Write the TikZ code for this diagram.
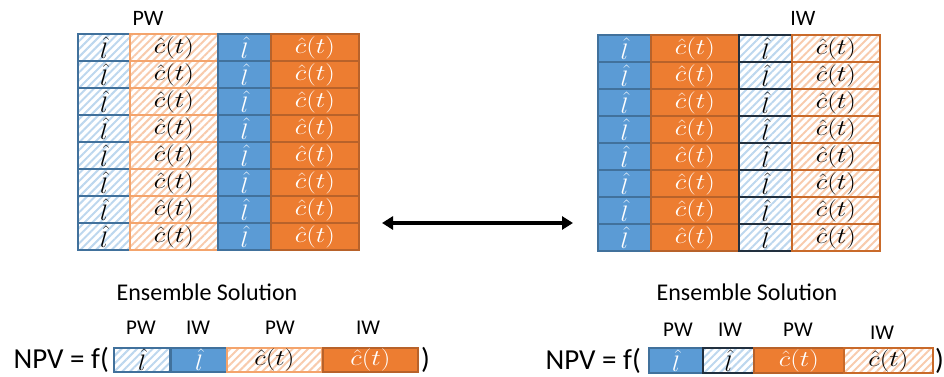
\documentclass[tikz,border=0pt]{standalone}
\usepackage{fix-cm}
\usepackage{graphicx}
\usepackage{fontspec}
\setmainfont{Carlito}
\usetikzlibrary{patterns.meta,arrows.meta}
\definecolor{cblue}{HTML}{5B9BD5}
\definecolor{cblueD}{HTML}{41719C}
\definecolor{corange}{HTML}{ED7D31}
\definecolor{corangeD}{HTML}{B8622A}
\definecolor{lblue}{HTML}{BDD7EE}
\definecolor{lorange}{HTML}{F8CBAD}
\definecolor{borangeL}{HTML}{F4A46C}
\definecolor{navy}{HTML}{22303F}
% the two cell symbols, widened a little
\newcommand{\symL}{\scalebox{1.25}[1.12]{$\hat{l}$}}
\newcommand{\symC}{\scalebox{1.35}[1.12]{$\hat{c}(t)$}}
\begin{document}
\begin{tikzpicture}[x=1pt,y=-1pt,
  cell/.style={rectangle,inner sep=0pt,outer sep=0pt,line width=1.4pt,anchor=north west,
    font=\fontsize{20}{24}\selectfont},
  hatch/.style={pattern={Lines[angle=45,distance=5.5pt,line width=2pt]}},
  hblue/.style={cell,hatch,pattern color=lblue,draw=cblueD},
  hblueN/.style={cell,hatch,pattern color=lblue,draw=navy},
  horange/.style={cell,hatch,pattern color=lorange,draw=borangeL},
  horangeD/.style={cell,hatch,pattern color=lorange,draw=corange!85!black},
  sblue/.style={cell,fill=cblue,draw=cblueD,text=white},
  sorange/.style={cell,fill=corange,draw=corangeD,text=white},
  lbl/.style={font=\fontsize{21}{25}\selectfont,inner sep=0pt},
  ens/.style={font=\fontsize{24}{28}\selectfont,inner sep=0pt},
  npv/.style={font=\fontsize{29}{34}\selectfont,inner sep=0pt},
  narrow/.style={minimum width=52pt,minimum height=27pt},
  wide/.style={minimum width=88pt,minimum height=27pt},
]
\useasboundingbox (0,0) rectangle (944,377);

% left block: PW hatched, IW solid
\node[lbl,font=\fontsize{22}{26}\selectfont] (pwtop) at (148,18) {PW};
\foreach \r in {0,...,7}{
  \pgfmathsetmacro{\yy}{34+27*\r}
  \node[hblue,narrow]   (L\r a) at (78,\yy)  {\symL};
  \node[horange,wide]   (L\r b) at (130,\yy) {\symC};
  \node[sblue,narrow,minimum width=53pt] (L\r c) at (218,\yy) {\symL};
  \node[sorange,wide]   (L\r d) at (271,\yy) {\symC};
}

% right block: PW solid, IW hatched
\node[lbl,font=\fontsize{22}{26}\selectfont] (iwtop) at (803,18) {IW};
\foreach \r in {0,...,7}{
  \pgfmathsetmacro{\yy}{35+27*\r}
  \node[sblue,narrow,minimum width=53pt] (R\r a) at (598,\yy) {\symL};
  \node[sorange,wide]   (R\r b) at (651,\yy) {\symC};
  \node[hblueN,narrow,minimum width=53pt] (R\r c) at (739,\yy) {\symL};
  \node[horangeD,wide]  (R\r d) at (792,\yy) {\symC};
}

% double arrow between the two blocks
\coordinate (al) at (382,223);
\coordinate (ar) at (573,223);
\draw[line width=3.5pt,{Triangle[width=13pt,length=11pt]}-{Triangle[width=13pt,length=11pt]}] (al) -- (ar);

% left ensemble solution
\node[ens] (esl) at (207,292) {Ensemble Solution};
\node[lbl] (lp1) at (141,328) {PW};
\node[lbl] (li1) at (198,328) {IW};
\node[lbl] (lp2) at (280,328) {PW};
\node[lbl] (li2) at (368,328) {IW};
\node[hblue,minimum width=56pt,minimum height=24pt] (eL1) at (114,348) {\symL};
\node[sblue,minimum width=56pt,minimum height=24pt] (eL2) at (171,348) {\symL};
\node[horange,minimum width=95pt,minimum height=24pt] (eL3) at (227,348) {\symC};
\node[sorange,minimum width=95pt,minimum height=24pt] (eL4) at (323,348) {\symC};
\node[npv,anchor=east] (npvL) at ([xshift=-5pt]eL1.west) {NPV = f(};
\node[npv,anchor=west] (clL) at ([xshift=3pt]eL4.east) {)};

% right ensemble solution
\node[ens] (esr) at (747,292) {Ensemble Solution};
\node[lbl] (rp1) at (678,330) {PW};
\node[lbl] (ri1) at (730,330) {IW};
\node[lbl] (rp2) at (798,330) {PW};
\node[lbl] (ri2) at (882,333) {IW};
\node[sblue,minimum width=54pt,minimum height=25pt] (eR1) at (649,348) {\symL};
\node[hblueN,minimum width=51pt,minimum height=25pt] (eR2) at (703,348) {\symL};
\node[sorange,minimum width=90pt,minimum height=25pt] (eR3) at (754,348) {\symC};
\node[horangeD,minimum width=89pt,minimum height=25pt] (eR4) at (844,348) {\symC};
\node[npv,anchor=east] (npvR) at ([xshift=-8pt]eR1.west) {NPV = f(};
\node[npv,anchor=west] (clR) at ([xshift=2pt]eR4.east) {)};
\end{tikzpicture}
\end{document}
